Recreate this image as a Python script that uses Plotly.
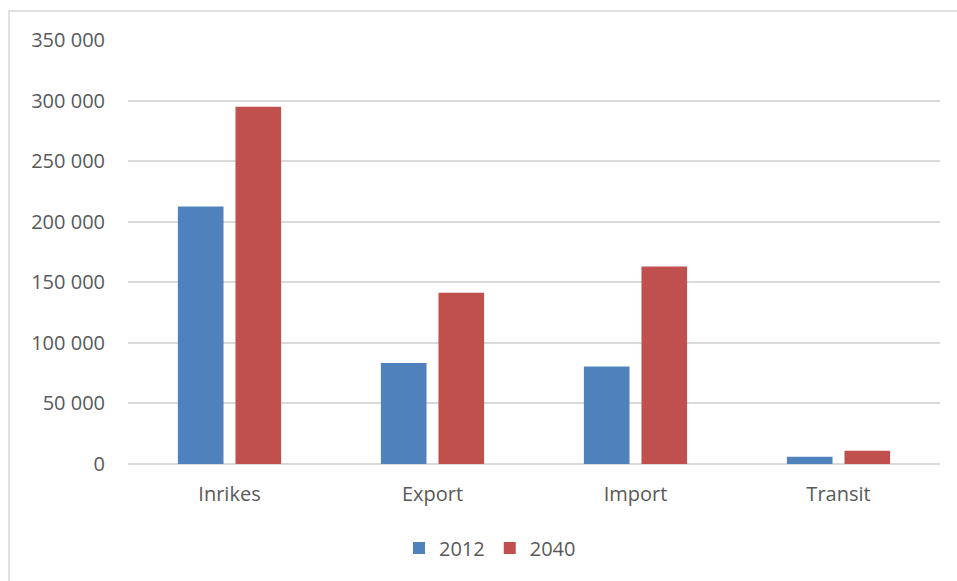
import plotly.graph_objects as go

# Freight volumes by flow type
categories = ["Inrikes", "Export", "Import", "Transit"]
values_2012 = [212500, 83300, 80400, 6000]
values_2040 = [295000, 141300, 163000, 11000]
y_ticks = [0, 50000, 100000, 150000, 200000, 250000, 300000, 350000]

BLUE = "#4F81BD"
RED = "#C0504D"
GRID = "#D9D9D9"
TEXT = "#595959"
FONT = "Open Sans"

W, H = 957, 581
L, R, T, B = 128, 17, 40, 117
plot_w = W - L - R
plot_h = H - T - B


def px_x(px):
    return (px - L) / plot_w


def px_y(py):
    return (H - B - py) / plot_h


fig = go.Figure()
fig.add_trace(go.Bar(name="2012", x=categories, y=values_2012,
                     marker=dict(color=BLUE, line=dict(width=0))))
fig.add_trace(go.Bar(name="2040", x=categories, y=values_2040,
                     marker=dict(color=RED, line=dict(width=0))))

fig.update_layout(
    width=W, height=H,
    margin=dict(l=L, r=R, t=T, b=B, pad=0),
    paper_bgcolor="white", plot_bgcolor="white",
    font=dict(family=FONT, size=20, color=TEXT),
    separators=". ",
    barmode="group",
    bargap=0.4325,
    bargroupgap=0.208,
    showlegend=True,
    legend=dict(orientation="h", x=px_x(490), xanchor="center",
                y=px_y(548), yanchor="middle",
                font=dict(family=FONT, size=20, color=TEXT),
                itemwidth=30, traceorder="normal",
                bgcolor="rgba(0,0,0,0)"),
    shapes=[dict(type="rect", xref="paper", yref="paper",
                 x0=px_x(9), x1=px_x(1010), y0=px_y(650), y1=px_y(11),
                 line=dict(color=GRID, width=1.5), fillcolor="rgba(0,0,0,0)",
                 layer="below")],
)

fig.update_xaxes(showgrid=False, showline=False, ticks="",
                 tickfont=dict(family=FONT, size=20, color=TEXT),
                 ticklabelstandoff=16)
fig.update_yaxes(range=[0, 350000], tickvals=y_ticks, tickformat=",d",
                 showgrid=True, gridcolor=GRID, gridwidth=1.5,
                 zeroline=True, zerolinecolor=GRID, zerolinewidth=1.5,
                 showline=False, ticks="",
                 tickfont=dict(family=FONT, size=20, color=TEXT),
                 ticklabelstandoff=22)

fig.write_html("out.html")
